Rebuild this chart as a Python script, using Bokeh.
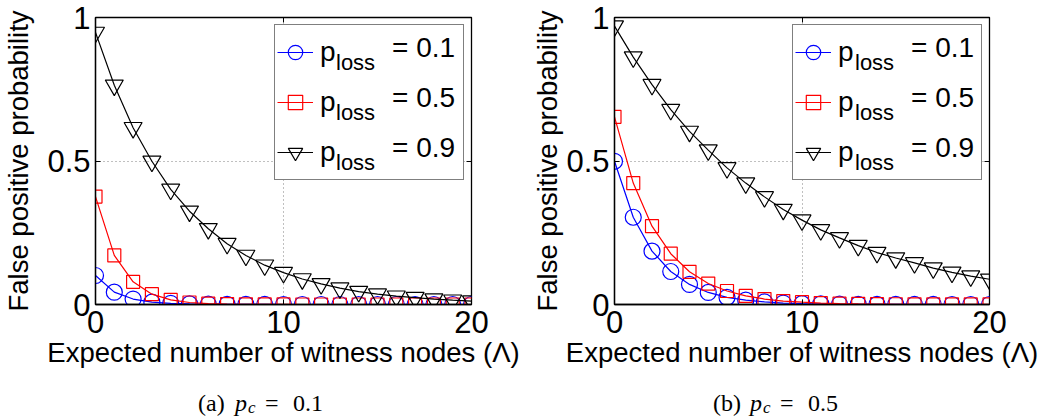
from bokeh.plotting import figure
from bokeh.layouts import row, column
from bokeh.models import FixedTicker, Legend, LegendItem, Range1d, NumeralTickFormatter, LinearAxis
from bokeh.embed import file_html
from bokeh.resources import INLINE

# ---------------- data ----------------
lam = list(range(21))
x_ticks = [0, 10, 20]
x_tick_labels = ["0", "10", "20"]
y_ticks = [0, 0.5, 1]
y_tick_labels = ["0", "0.5", "1"]
loss_values = ["0.1", "0.5", "0.9"]
x_label = "Expected number of witness nodes (\u039b)"
y_label = "False positive probability"

# (a) p_c = 0.1
fp_a_loss01 = [0.101, 0.043, 0.019, 0.008, 0.004, 0.002, 0.001, 0.0005, 0.0002, 0.0001, 0.0,
               0.0, 0.0, 0.0, 0.0, 0.0, 0.0, 0.0, 0.0, 0.0, 0.0]
fp_a_loss05 = [0.376, 0.171, 0.079, 0.036, 0.016, 0.007, 0.003, 0.0015, 0.0007, 0.0003, 0.0001,
               0.0, 0.0, 0.0, 0.0, 0.0, 0.0, 0.0, 0.0, 0.0, 0.0]
fp_a_loss09 = [0.948, 0.764, 0.616, 0.499, 0.401, 0.325, 0.264, 0.212, 0.171, 0.137, 0.111,
               0.089, 0.072, 0.057, 0.045, 0.036, 0.029, 0.024, 0.019, 0.015, 0.012]

# (b) p_c = 0.5
fp_b_loss01 = [0.499, 0.304, 0.186, 0.115, 0.070, 0.042, 0.025, 0.015, 0.009, 0.005, 0.003,
               0.002, 0.001, 0.0007, 0.0004, 0.0002, 0.0001, 0.0001, 0.0, 0.0, 0.0]
fp_b_loss05 = [0.654, 0.423, 0.273, 0.177, 0.114, 0.073, 0.047, 0.030, 0.019, 0.012, 0.008,
               0.005, 0.003, 0.002, 0.0013, 0.0008, 0.0005, 0.0003, 0.0002, 0.0001, 0.0001]
fp_b_loss09 = [0.970, 0.862, 0.766, 0.679, 0.603, 0.538, 0.476, 0.423, 0.375, 0.331, 0.294,
               0.260, 0.232, 0.205, 0.181, 0.162, 0.145, 0.127, 0.112, 0.099, 0.088]

captions = [("(a)", "0.1"), ("(b)", "0.5")]

# ---------------- styles ----------------
colors = ["#0000ff", "#ff0000", "#000000"]
markers = ["circle", "square", "inverted_triangle"]
msizes = [16, 13, 18]
SANS = "Liberation Sans"
SERIF = "Liberation Serif"
FRAME_H = 287
CAP_H = 38


def text_legend(p, dummy, labels, x, top, row_h, frame_h, font, size, style="normal"):
    """Border-less transparent legend used only to place text: labels start at x and the
    first row's top edge is `top` pixels below the frame's top edge."""
    vy = frame_h - top - row_h * len(labels)
    lg = Legend(items=[LegendItem(label=t, renderers=[dummy]) for t in labels],
                location=(0, vy), margin=0, padding=0, spacing=0,
                glyph_width=max(int(x), 1), glyph_height=row_h, label_height=row_h,
                label_width=20, label_standoff=0,
                label_text_font=font, label_text_font_size=size,
                label_text_font_style=style, label_text_color="black",
                border_line_color=None, background_fill_alpha=0)
    p.add_layout(lg)
    return lg


def mirror_axis(ticks):
    ax = LinearAxis(ticker=FixedTicker(ticks=ticks),
                    major_label_overrides={t: "" for t in ticks},
                    major_label_text_font_size="0px", major_label_standoff=0)
    ax.major_tick_in = 5
    ax.major_tick_out = 0
    ax.major_tick_line_color = "black"
    ax.minor_tick_line_color = None
    ax.axis_line_color = None
    return ax


def make_panel(series, border_left, border_right, frame_w, ylab_standoff):
    p = figure(frame_width=frame_w, frame_height=FRAME_H,
               x_range=Range1d(0, 20), y_range=Range1d(0, 1),
               min_border_left=border_left, min_border_right=border_right,
               min_border_top=17, min_border_bottom=76,
               output_backend="svg", toolbar_location=None,
               background_fill_color="white", border_fill_color="white")
    p.outline_line_color = "black"
    p.outline_line_width = 1.3

    p.xaxis.ticker = FixedTicker(ticks=x_ticks)
    p.yaxis.ticker = FixedTicker(ticks=y_ticks)
    p.yaxis.formatter = NumeralTickFormatter(format="0.[0]")
    p.xaxis.major_label_overrides = dict(zip(x_ticks, x_tick_labels))
    p.yaxis.major_label_overrides = dict(zip(y_ticks, y_tick_labels))
    p.xgrid.ticker = FixedTicker(ticks=x_ticks)
    p.ygrid.ticker = FixedTicker(ticks=y_ticks)
    for g in (p.xgrid[0], p.ygrid[0]):
        g.grid_line_color = "#808080"
        g.grid_line_dash = "1 3"
        g.grid_line_width = 1

    for ax in (p.xaxis[0], p.yaxis[0]):
        ax.major_tick_in = 5
        ax.major_tick_out = 0
        ax.major_tick_line_color = "black"
        ax.minor_tick_line_color = None
        ax.axis_line_color = "black"
        ax.axis_line_width = 1.3
        ax.major_label_text_font = SANS
        ax.major_label_text_font_size = "31px"
        ax.major_label_text_color = "black"
        ax.axis_label_text_font = SANS
        ax.axis_label_text_font_size = "27.5px"
        ax.axis_label_text_font_style = "normal"
        ax.axis_label_text_color = "black"
    p.xaxis.axis_label = x_label
    p.xaxis.major_label_standoff = 6
    p.xaxis.axis_label_standoff = 1
    p.yaxis.axis_label = y_label
    p.yaxis.major_label_standoff = 5
    p.yaxis.axis_label_standoff = ylab_standoff

    # mirrored inward ticks on the top and right edges of the box
    p.add_layout(mirror_axis(x_ticks), "above")
    p.add_layout(mirror_axis(y_ticks), "right")

    items = []
    for vals, c, m, s in zip(series, colors, markers, msizes):
        lr = p.line(lam, vals, line_color=c, line_width=1.2)
        sr = p.scatter(lam, vals, marker=m, size=s, line_color=c, fill_color=None, line_width=1.2)
        items.append(LegendItem(label="p", renderers=[lr, sr]))

    legend = Legend(items=items, location="top_right", margin=7, padding=2, spacing=0,
                    glyph_width=36, glyph_height=50, label_height=50, label_width=141,
                    label_standoff=7, label_text_font=SANS, label_text_font_size="28px",
                    label_text_color="black",
                    border_line_color="black", border_line_width=1.3,
                    background_fill_color="white", background_fill_alpha=1.0)
    p.add_layout(legend)

    # subscript "loss" and "= value" parts of the legend labels
    dummy = p.line(x=[], y=[], line_alpha=0)
    text_legend(p, dummy, ["loss"] * 3, 241, 21, 50, FRAME_H, SANS, "22px")
    text_legend(p, dummy, ["= " + v for v in loss_values], 297, 6, 50, FRAME_H, SANS, "28px")
    return p


def make_caption(width, caption, cap_x):
    c = figure(frame_width=width, frame_height=CAP_H, min_border=0,
               x_range=Range1d(0, 1), y_range=Range1d(0, 1),
               x_axis_type=None, y_axis_type=None,
               output_backend="svg", toolbar_location=None,
               background_fill_color="white", border_fill_color="white")
    c.outline_line_color = None
    dummy = c.line(x=[], y=[], line_alpha=0)
    letter, val = caption
    text_legend(c, dummy, [letter], cap_x, 8, 30, CAP_H, SERIF, "24px")
    text_legend(c, dummy, ["p"], cap_x + 37, 8, 30, CAP_H, SERIF, "24px", "italic")
    text_legend(c, dummy, ["c"], cap_x + 50, 18, 20, CAP_H, SERIF, "17px", "italic")
    text_legend(c, dummy, ["="], cap_x + 67, 8, 30, CAP_H, SERIF, "24px")
    text_legend(c, dummy, [val], cap_x + 95, 8, 30, CAP_H, SERIF, "24px")
    return c


p1 = make_panel([fp_a_loss01, fp_a_loss05, fp_a_loss09], 95, 57, 376, 10)
p2 = make_panel([fp_b_loss01, fp_b_loss05, fp_b_loss09], 86, 60, 375, 0)
c1 = make_caption(95 + 376 + 57, captions[0], 198)
c2 = make_caption(86 + 375 + 60, captions[1], 185)

layout = row(column(p1, c1), column(p2, c2))
open("out.html", "w").write(file_html(layout, INLINE, title="False positive probability"))
